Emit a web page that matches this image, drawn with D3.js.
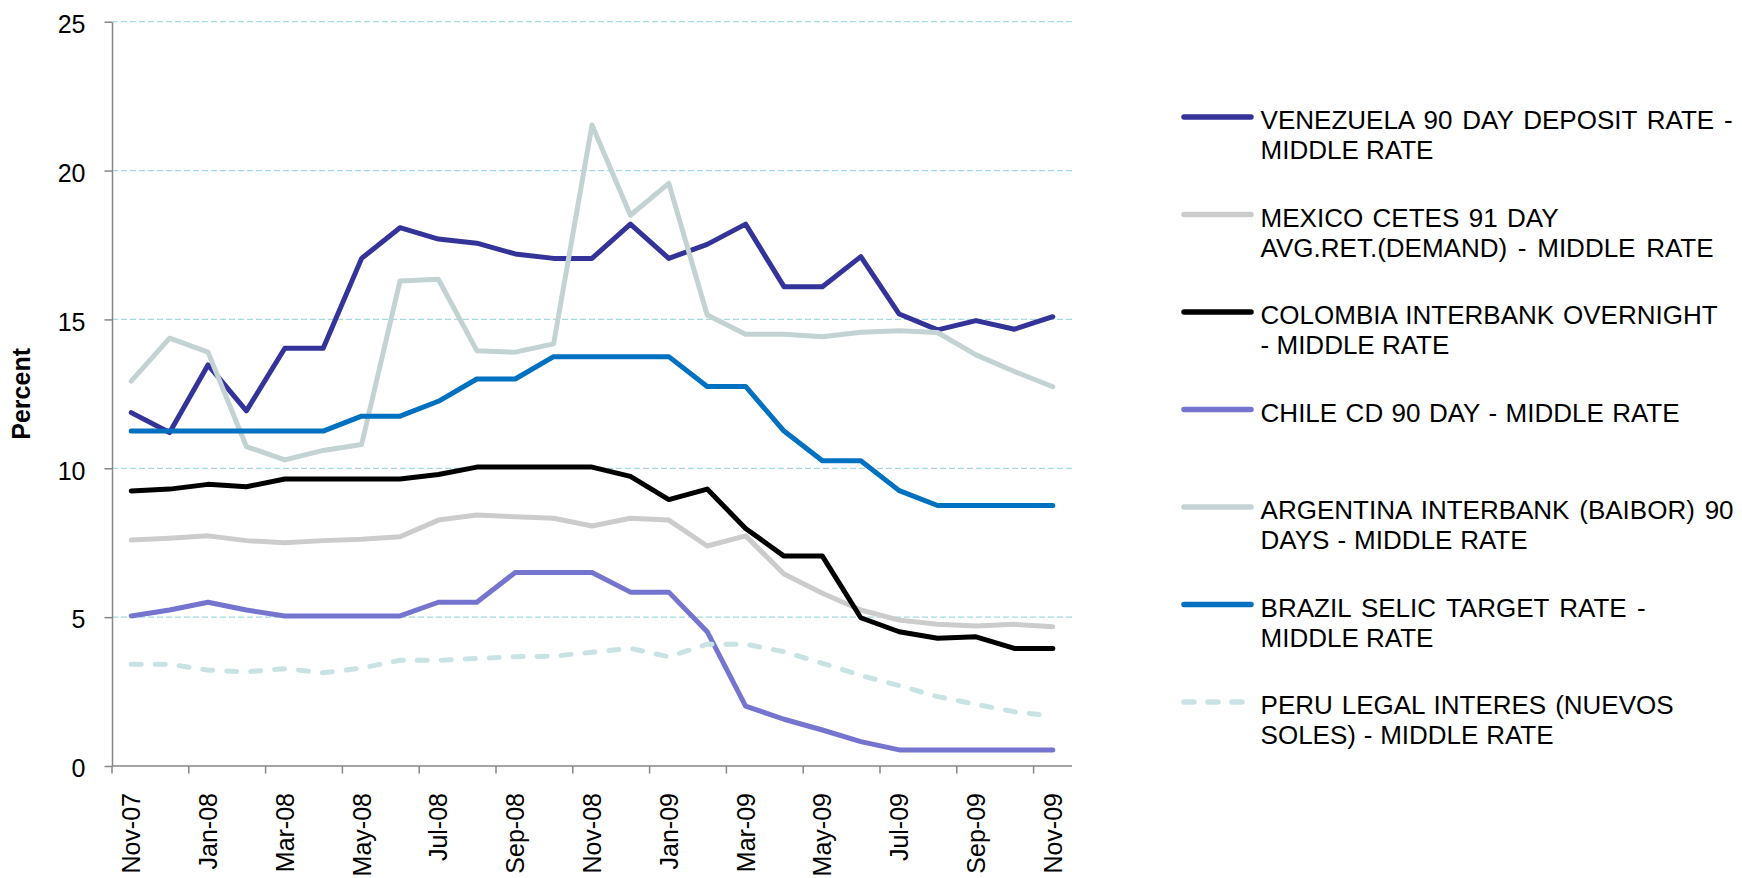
<!DOCTYPE html>
<html>
<head>
<meta charset="utf-8">
<script src="https://cdn.jsdelivr.net/npm/d3@7"></script>
<style>
  body { margin: 0; background: #fff; }
  svg { font-family: "Liberation Sans", Arial, sans-serif; }
</style>
</head>
<body>
<div id="grafico"></div>
<script>
//---------------- datos ----------------

const meses = ["Nov-07","Dec-07","Jan-08","Feb-08","Mar-08","Apr-08","May-08","Jun-08","Jul-08","Aug-08",
               "Sep-08","Oct-08","Nov-08","Dec-08","Jan-09","Feb-09","Mar-09","Apr-09","May-09","Jun-09",
               "Jul-09","Aug-09","Sep-09","Oct-09","Nov-09"];

const venezuela = [11.87,11.2,13.47,11.93,14.03,14.03,17.05,18.08,17.7,17.56,17.2,17.05,17.05,
                   18.2,17.05,17.52,18.2,16.1,16.1,17.11,15.18,14.65,14.96,14.67,15.09];
const mexico    = [7.59,7.65,7.73,7.57,7.5,7.57,7.62,7.7,8.26,8.43,8.37,8.32,8.06,
                   8.32,8.26,7.39,7.73,6.45,5.8,5.24,4.9,4.76,4.7,4.76,4.68];
const colombia  = [9.24,9.3,9.46,9.38,9.64,9.64,9.64,9.64,9.79,10.04,10.04,10.04,10.04,
                   9.73,8.95,9.3,7.98,7.05,7.05,4.98,4.51,4.29,4.34,3.95,3.95];
const chile     = [5.04,5.24,5.5,5.24,5.04,5.04,5.04,5.04,5.5,5.5,6.5,6.5,6.5,
                   5.84,5.84,4.51,2.01,1.57,1.21,0.82,0.54,0.54,0.54,0.54,0.54];
const argentina = [12.93,14.37,13.9,10.73,10.28,10.6,10.8,16.29,16.35,13.95,13.9,14.18,21.53,
                   18.5,19.57,15.15,14.5,14.5,14.42,14.57,14.62,14.56,13.81,13.25,12.74];
const brasil    = [11.25,11.25,11.25,11.25,11.25,11.25,11.75,11.75,12.25,13.0,13.0,13.75,13.75,
                   13.75,13.75,12.75,12.75,11.25,10.25,10.25,9.25,8.75,8.75,8.75,8.75];
const peru      = [3.42,3.42,3.22,3.16,3.27,3.13,3.29,3.55,3.55,3.61,3.67,3.69,3.82,
                   3.95,3.67,4.09,4.09,3.84,3.45,3.04,2.7,2.33,2.07,1.82,1.68];

const ticksY = [0, 5, 10, 15, 20, 25];

const etiquetas = [
    ["VENEZUELA 90 DAY DEPOSIT RATE -", "MIDDLE RATE"],
    ["MEXICO CETES 91 DAY", "AVG.RET.(DEMAND) - MIDDLE RATE"],
    ["COLOMBIA INTERBANK OVERNIGHT", "- MIDDLE RATE"],
    ["CHILE CD 90 DAY - MIDDLE RATE"],
    ["ARGENTINA INTERBANK (BAIBOR) 90", "DAYS - MIDDLE RATE"],
    ["BRAZIL SELIC TARGET RATE -", "MIDDLE RATE"],
    ["PERU LEGAL INTERES (NUEVOS", "SOLES) - MIDDLE RATE"]
];

//---------------- estilos / layout ----------------

const series = [
    {valores: venezuela, color: "#333399", dash: null},
    {valores: mexico,    color: "#cccccc", dash: null},
    {valores: colombia,  color: "#000000", dash: null},
    {valores: chile,     color: "#7575cf", dash: null},
    {valores: argentina, color: "#c3d3d3", dash: null},
    {valores: brasil,    color: "#0070c0", dash: null},
    {valores: peru,      color: "#c9e3e5", dash: "10,14"}
];

// ancho (px) de cada renglon de la leyenda, el texto viene justificado
const anchoRenglon = [[472, 171], [298, 453], [457, 188], [419], [473, 267], [385, 171], [413, 293]];

const ancho = 1742, alto = 878;
const margen = {left: 112, right: 1072, top: 21.7, bottom: 766};

const svg = d3.select("#grafico")
              .append("svg")
              .attr("width", ancho)
              .attr("height", alto);

const xScale = d3.scaleBand()
                 .domain(meses)
                 .range([margen.left, margen.right])
                 .padding(0);

const yScale = d3.scaleLinear()
                 .domain([0, 25])
                 .range([margen.bottom, margen.top]);

const centro = m => xScale(m) + xScale.bandwidth() / 2;

// lineas de cuadricula
svg.append("g")
   .selectAll("line")
   .data(ticksY.filter(t => t > 0))
   .enter()
   .append("line")
   .attr("x1", margen.left)
   .attr("x2", margen.right)
   .attr("y1", d => yScale(d))
   .attr("y2", d => yScale(d))
   .attr("stroke", "#a6dade")
   .attr("stroke-width", 1.3)
   .attr("stroke-dasharray", "6,3");

// eje Y
const ejeY = svg.append("g")
                .attr("transform", `translate(${margen.left},0)`)
                .call(d3.axisLeft(yScale).tickValues(ticksY).tickSize(7.5).tickPadding(19).tickSizeOuter(0));
ejeY.select(".domain").attr("stroke", "#868686").attr("stroke-width", 1.5);
ejeY.selectAll(".tick line").attr("stroke", "#868686").attr("stroke-width", 1.5);
ejeY.selectAll(".tick text")
    .attr("font-size", 25)
    .attr("fill", "#000")
    .attr("font-family", "Liberation Sans, Arial, sans-serif")
    .attr("dy", "0.43em");

// eje X: marcas cada dos meses en el borde de la banda, etiquetas centradas
svg.append("line")
   .attr("x1", margen.left).attr("x2", margen.right)
   .attr("y1", margen.bottom).attr("y2", margen.bottom)
   .attr("stroke", "#868686").attr("stroke-width", 1.5);

const mesesPares = meses.filter((m, i) => i % 2 === 0);

svg.append("g")
   .selectAll("line")
   .data(mesesPares)
   .enter()
   .append("line")
   .attr("x1", d => xScale(d)).attr("x2", d => xScale(d))
   .attr("y1", margen.bottom).attr("y2", margen.bottom + 7.5)
   .attr("stroke", "#868686").attr("stroke-width", 1.5);

svg.append("g")
   .selectAll("text")
   .data(mesesPares)
   .enter()
   .append("text")
   .attr("transform", d => `translate(${centro(d)},${margen.bottom + 27}) rotate(-90)`)
   .attr("text-anchor", "end")
   .attr("dy", "0.36em")
   .attr("font-size", 25)
   .text(d => d);

// titulo eje Y
svg.append("text")
   .attr("transform", `translate(30,${(margen.top + margen.bottom) / 2}) rotate(-90)`)
   .attr("text-anchor", "middle")
   .attr("font-size", 25)
   .attr("font-weight", "bold")
   .text("Percent");

// series
const linea = d3.line()
                .x((d, i) => centro(meses[i]))
                .y(d => yScale(d));

svg.append("g")
   .selectAll("path")
   .data(series)
   .enter()
   .append("path")
   .attr("d", s => linea(s.valores))
   .attr("fill", "none")
   .attr("stroke", s => s.color)
   .attr("stroke-width", 5)
   .attr("stroke-linejoin", "round")
   .attr("stroke-linecap", "round")
   .attr("stroke-dasharray", s => s.dash);

// leyenda
const leyenda = svg.append("g");
series.forEach((s, k) => {
    const yL = 117 + k * 97.5;
    leyenda.append("line")
        .attr("x1", 1184).attr("x2", 1251)
        .attr("y1", yL).attr("y2", yL)
        .attr("stroke", s.color)
        .attr("stroke-width", 5.5)
        .attr("stroke-linecap", "round")
        .attr("stroke-dasharray", s.dash);

    const txt = leyenda.append("text")
        .attr("x", 1260.6)
        .attr("y", yL + 12)
        .attr("font-size", 26);

    etiquetas[k].forEach((renglon, j) => {
        const ts = txt.append("tspan")
            .attr("x", 1260.6)
            .attr("y", yL + 12 + j * 30)
            .text(renglon);
        const natural = ts.node().getComputedTextLength();
        const espacios = (renglon.match(/ /g) || []).length;
        if (espacios > 0) {
            const ws = (anchoRenglon[k][j] - natural) / espacios;
            ts.attr("word-spacing", Math.max(0, ws));
        }
    });
});
</script>
</body>
</html>
